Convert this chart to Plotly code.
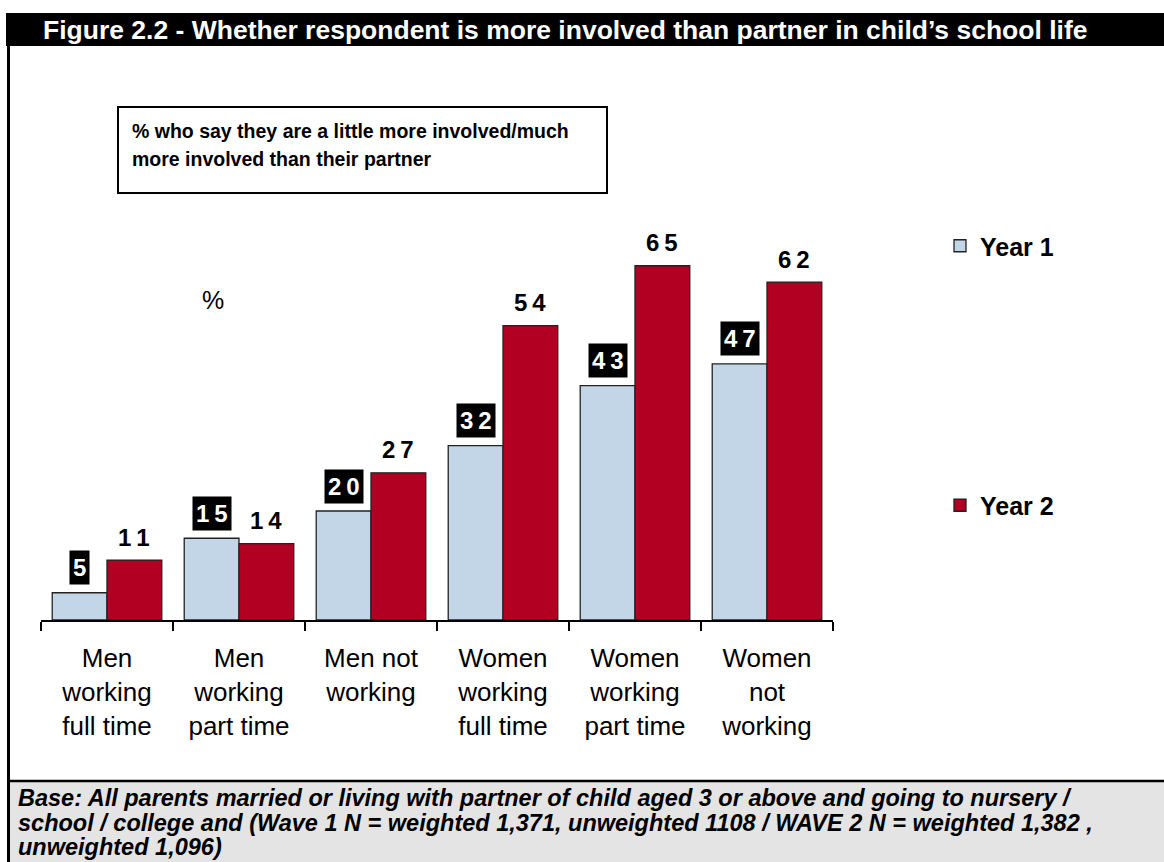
import plotly.graph_objects as go

# ========== DATA ==========
categories = [
    "Men<br>working<br>full time",
    "Men<br>working<br>part time",
    "Men not<br>working",
    "Women<br>working<br>full time",
    "Women<br>working<br>part time",
    "Women<br>not<br>working",
]
year1 = [5, 15, 20, 32, 43, 47]
year2 = [11, 14, 27, 54, 65, 62]
series_names = ["Year 1", "Year 2"]

title_text = "Figure 2.2 - Whether respondent is more involved than partner in child\u2019s school life"
box_lines = ["% who say they are a little more involved/much", "more involved than their partner"]
base_lines = [
    "Base: All parents married or living with partner of child aged 3 or above and going to nursery /",
    "school / college and (Wave 1 N = weighted 1,371, unweighted 1108 / WAVE 2 N = weighted 1,382 ,",
    "unweighted 1,096)",
]

# ========== LAYOUT GEOMETRY (pixels) ==========
W, H = 1164, 862
L, R, T, B = 41, 331, 184, 242
PW, PH = W - L - R, H - T - B
FONT = "Liberation Sans, Arial, sans-serif"
BLUE = "#c3d6e7"
RED = "#b10022"


def px(x):
    return (x - L) / PW


def py(y):
    return 1 - (y - T) / PH


def spaced(v):
    return "\u2009".join(str(v))


fig = go.Figure()
for name, vals, col in zip(series_names, [year1, year2], [BLUE, RED]):
    fig.add_trace(go.Bar(
        x=categories, y=vals, name=name, legendgroup=name,
        marker=dict(color=col, line=dict(color="#222222", width=1.3)),
        hoverinfo="skip",
    ))

# value labels
half = PW / len(categories) * (1 - 0.17) / 4
for cat, v in zip(categories, year1):
    fig.add_annotation(
        x=cat, y=v, xref="x", yref="y", xshift=-half, yshift=25,
        text=f"<b>{spaced(v)}</b>", showarrow=False,
        font=dict(size=24, color="white", family=FONT),
        bgcolor="black", borderpad=3,
    )
for cat, v in zip(categories, year2):
    fig.add_annotation(
        x=cat, y=v, xref="x", yref="y", xshift=half, yshift=23,
        text=f"<b>{spaced(v)}</b>", showarrow=False,
        font=dict(size=24, color="black", family=FONT),
    )

shapes = [
    # title bar
    dict(type="rect", xref="paper", yref="paper", x0=px(6), x1=px(1164), y0=py(46), y1=py(13),
         fillcolor="black", line=dict(width=0), layer="below"),
    # left border
    dict(type="line", xref="paper", yref="paper", x0=px(8.5), x1=px(8.5), y0=py(46), y1=py(862),
         line=dict(color="black", width=3)),
    # footer panel
    dict(type="rect", xref="paper", yref="paper", x0=px(10), x1=px(1164), y0=py(862), y1=py(781),
         fillcolor="#e4e4e4", line=dict(width=0), layer="below"),
    dict(type="line", xref="paper", yref="paper", x0=px(8), x1=px(1164), y0=py(781), y1=py(781),
         line=dict(color="black", width=2.5)),
    # subtitle box
    dict(type="rect", xref="paper", yref="paper", x0=px(118), x1=px(607), y0=py(193), y1=py(107),
         fillcolor="white", line=dict(color="black", width=2)),
]

annotations = [
    dict(x=px(41), y=py(30), xref="paper", yref="paper", xanchor="left", yanchor="middle",
         text=f"<b>{title_text}</b>", showarrow=False,
         font=dict(size=26.5, color="white", family=FONT)),
    dict(x=px(213), y=py(300), xref="paper", yref="paper", xanchor="center", yanchor="middle",
         text="%", showarrow=False, font=dict(size=25, color="black", family=FONT)),
]
for line, yc in zip(box_lines, [131, 159]):
    annotations.append(dict(
        x=px(130), y=py(yc), xref="paper", yref="paper", xanchor="left", yanchor="middle",
        text=f"<b>{line}</b>", showarrow=False,
        font=dict(size=19.5, color="black", family=FONT)))
for line, yc in zip(base_lines, [798, 823, 847]):
    annotations.append(dict(
        x=px(16), y=py(yc), xref="paper", yref="paper", xanchor="left", yanchor="middle",
        text=f"<b><i>{line}</i></b>", showarrow=False,
        font=dict(size=23.5, color="black", family=FONT)))
for a in annotations:
    fig.add_annotation(**a)

fig.update_layout(
    width=W, height=H,
    margin=dict(l=L, r=R, t=T, b=B),
    paper_bgcolor="white", plot_bgcolor="white",
    barmode="group", bargap=0.17, bargroupgap=0,
    font=dict(family=FONT, color="black"),
    shapes=shapes,
    showlegend=True,
    legend=dict(
        x=px(940), y=py(223), xanchor="left", yanchor="top",
        traceorder="grouped", tracegroupgap=224,
        font=dict(size=25, color="black", family=FONT, weight="bold"),
        bgcolor="rgba(0,0,0,0)",
    ),
    xaxis=dict(
        showline=True, linecolor="black", linewidth=1.5,
        ticks="outside", tickson="boundaries", ticklen=9, tickcolor="black", tickwidth=1.5,
        tickfont=dict(size=26, color="black", family=FONT),
        ticklabelstandoff=14,
        showgrid=False, zeroline=False,
    ),
    yaxis=dict(range=[0, 80], visible=False, showgrid=False, zeroline=False),
)

fig.write_html("out.html", config={"displayModeBar": False},
               post_script="document.body.style.margin='0';")
